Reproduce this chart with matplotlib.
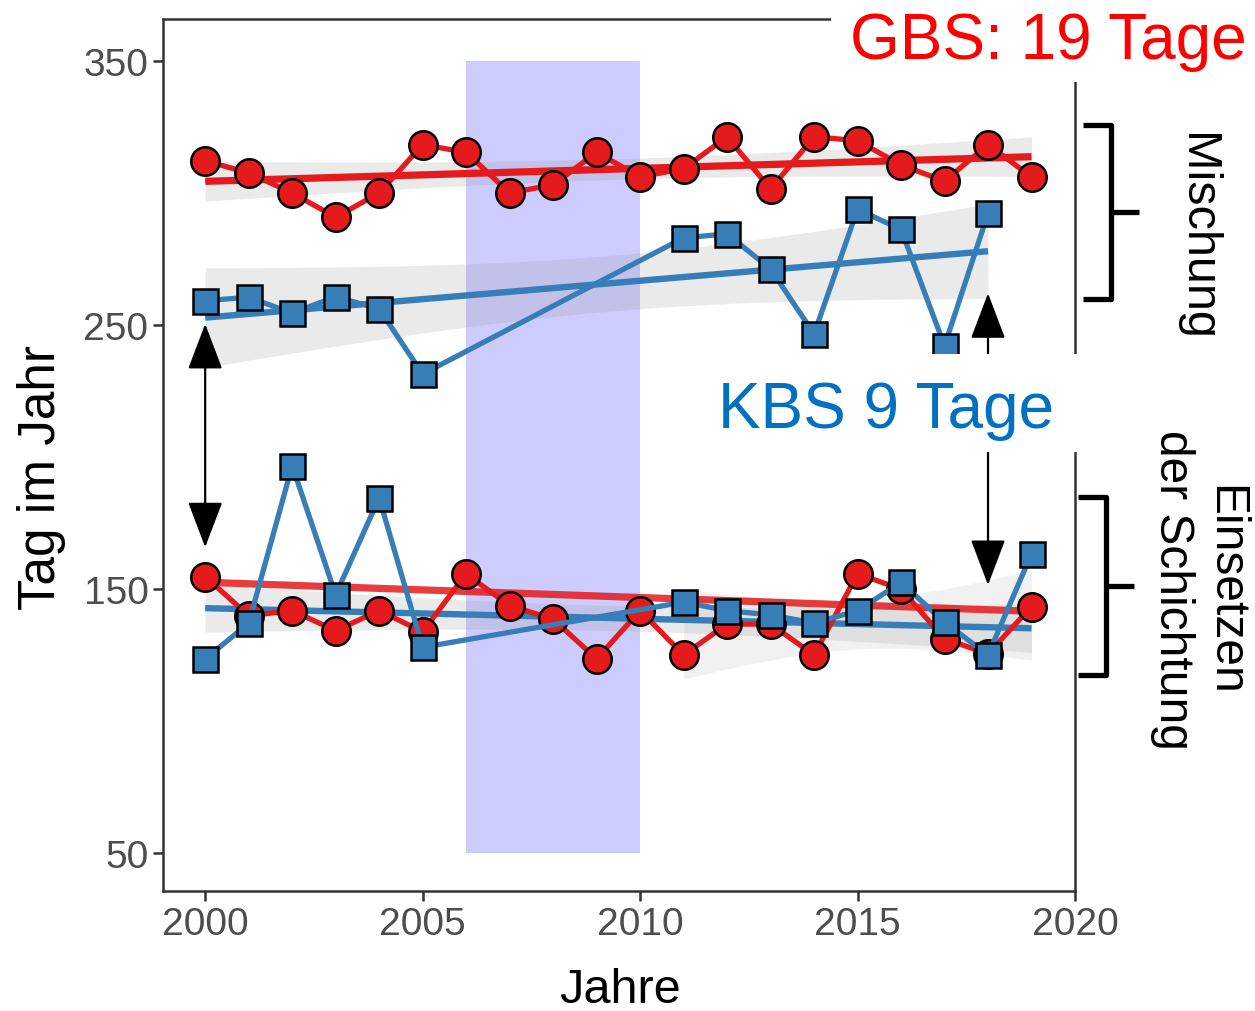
import numpy as np
import matplotlib
matplotlib.use('Agg')
import matplotlib.pyplot as plt
from matplotlib.patches import Rectangle
from matplotlib.lines import Line2D

plt.rcParams['font.family'] = ['Liberation Sans', 'DejaVu Sans']

# ---------------- data ----------------
years = list(range(2000, 2020))
gbs_mix = [312.2, 307.6, 300.0, 290.8, 300.0, 318.3, 315.4, 300.0, 303.1, 315.4,
           306.1, 309.2, 321.3, 301.5, 321.3, 319.8, 310.6, 304.5, 318.3, 306.1]
kbs_mix_years = [2000, 2001, 2002, 2003, 2004, 2005, 2011, 2012, 2013, 2014,
                 2015, 2016, 2017, 2018]
kbs_mix = [259.2, 260.5, 254.5, 260.7, 256.1, 231.4, 283.0, 284.5, 271.2, 246.6,
           293.8, 286.2, 242.1, 292.3]
gbs_strat = [154.7, 139.9, 141.8, 134.2, 141.8, 133.8, 155.7, 143.7, 138.6, 123.5,
             141.8, 125.0, 136.7, 136.7, 125.0, 155.7, 150.0, 131.1, 125.5, 143.3]
kbs_strat_years = [2000, 2001, 2002, 2003, 2004, 2005, 2011, 2012, 2013, 2014,
                   2015, 2016, 2017, 2018, 2019]
kbs_strat = [123.5, 137.0, 196.7, 147.8, 184.5, 127.9, 145.0, 141.8, 140.2, 137.1,
             141.8, 152.5, 137.4, 125.0, 163.3]
late_years_from = 2011          # light funnel band (late-period fit)
shade_years = [2006, 2010]
shade_days = [50, 350]
arrow_2000 = [250.4, 165.8]
arrow_2018 = [262.0, 151.5]
x_ticks = [2000, 2005, 2010, 2015, 2020]
y_ticks = [50, 150, 250, 350]

RED = '#E41A1C'
BLUE = '#377EB8'
T975 = {7: 2.365, 12: 2.179, 13: 2.160, 18: 2.101}


def lm_band(x, y, n_grid=100):
    x = np.asarray(x, float)
    y = np.asarray(y, float)
    b, a = np.polyfit(x, y, 1)
    xs = np.linspace(x.min(), x.max(), n_grid)
    fit = a + b * xs
    resid = y - (a + b * x)
    n = len(x)
    s = np.sqrt((resid ** 2).sum() / (n - 2))
    se = s * np.sqrt(1 / n + (xs - x.mean()) ** 2 / ((x - x.mean()) ** 2).sum())
    t = T975[n - 2]
    return xs, fit, fit - t * se, fit + t * se


W, H = 1255, 1012
fig = plt.figure(figsize=(W / 100, H / 100), dpi=100)


def fx(px):
    return px / W


def fy(py):
    return 1 - py / H


ax = fig.add_axes([fx(163), fy(892), fx(1075) - fx(163), fy(20) - fy(892)])
ax.set_xlim(1999.03, 2020.0)
ax.set_ylim(35.6, 365.9)

# shaded period
ax.add_patch(Rectangle((shade_years[0], shade_days[0]), shade_years[1] - shade_years[0],
                       shade_days[1] - shade_days[0], facecolor='#CCCCFF',
                       edgecolor='none', zorder=0.5))

# ---- mixing (top) ----
xs, fit, lo, hi = lm_band(years, gbs_mix)
ax.fill_between(xs, lo, hi, color='#999999', alpha=0.2, lw=0, zorder=1)
ax.plot(xs, fit, color=RED, lw=5.2, zorder=2, solid_capstyle='butt')

xs, fit, lo, hi = lm_band(kbs_mix_years, kbs_mix)
ax.fill_between(xs, lo, hi, color='#999999', alpha=0.2, lw=0, zorder=1)
ax.plot(xs, fit, color=BLUE, lw=4.6, zorder=2, solid_capstyle='butt')

# ---- onset of stratification (bottom) ----
ly = [y for y in years if y >= late_years_from]
lv = [v for y, v in zip(years, gbs_strat) if y >= late_years_from]
xs, fit, lo, hi = lm_band(ly, lv)
ax.fill_between(xs, lo, hi, color='#999999', alpha=0.13, lw=0, zorder=1)

xs, fit, lo, hi = lm_band(years, gbs_strat)
ax.fill_between(xs, lo, hi, color='#999999', alpha=0.2, lw=0, zorder=1)
ax.plot(xs, fit, color=BLUE, lw=4.6, zorder=2, solid_capstyle='butt')

xs, fit, lo, hi = lm_band(kbs_strat_years, kbs_strat)
ax.plot(xs, fit, color=RED, lw=5.2, alpha=0.85, zorder=2, solid_capstyle='butt')

# data lines and points
mk_c = dict(marker='o', markersize=20.5, markeredgecolor='black', markeredgewidth=1.8)
mk_s = dict(marker='s', markersize=18, markeredgecolor='black', markeredgewidth=1.8)
ax.plot(years, gbs_mix, color=RED, lw=3.8, zorder=3, markerfacecolor=RED, **mk_c)
ax.plot(kbs_mix_years, kbs_mix, color=BLUE, lw=3.8, zorder=3, markerfacecolor=BLUE, **mk_s)
ax.plot(years, gbs_strat, color=RED, lw=3.8, zorder=3, markerfacecolor=RED, **mk_c)
ax.plot(kbs_strat_years, kbs_strat, color=BLUE, lw=3.8, zorder=4, markerfacecolor=BLUE, **mk_s)

# arrows
astyle = '<|-|>,head_length=2.9,head_width=1.1'
ax.annotate('', xy=(2000, arrow_2000[1]), xytext=(2000, arrow_2000[0]),
            arrowprops=dict(arrowstyle=astyle, mutation_scale=10, color='black',
                            lw=1.6, shrinkA=0, shrinkB=0), zorder=5)
ax.annotate('', xy=(2018, arrow_2018[1]), xytext=(2018, arrow_2018[0]),
            arrowprops=dict(arrowstyle=astyle, mutation_scale=10, color='black',
                            lw=1.6, shrinkA=0, shrinkB=0), zorder=5)

# axes styling
for sp in ax.spines.values():
    sp.set_color('#333333')
    sp.set_linewidth(1.8)
ax.set_xticks(x_ticks)
ax.set_yticks(y_ticks)
ax.set_xticklabels([str(t) for t in x_ticks])
ax.set_yticklabels([str(t) for t in y_ticks])
ax.tick_params(axis='both', length=7, width=1.8, color='#333333',
               labelsize=28, labelcolor='#4D4D4D', pad=3.5)

fig.text(fx(42), fy(478), 'Tag im Jahr', rotation=90, ha='center', va='center',
         fontsize=37, color='black')
fig.text(fx(620), fy(991), 'Jahre', ha='center', va='center', fontsize=35,
         color='black')

# white boxes covering parts of the frame, with the labels
fig.add_artist(Rectangle((fx(831), fy(83)), fx(W) - fx(831), fy(0) - fy(83),
                         transform=fig.transFigure, facecolor='white',
                         edgecolor='none', zorder=10))
fig.add_artist(Rectangle((fx(705), fy(453)), fx(1090) - fx(705), fy(355) - fy(453),
                         transform=fig.transFigure, facecolor='white',
                         edgecolor='none', zorder=10))
fig.text(fx(850), fy(59), 'GBS: 19 Tage', color='#FF0000', fontsize=46,
         ha='left', va='baseline', zorder=11)
fig.text(fx(718), fy(428), 'KBS 9 Tage', color='#0070C0', fontsize=46,
         ha='left', va='baseline', zorder=11)

# brackets at the right
def bracket(top, bottom, xv, xend, xtick):
    mid = (top + bottom) / 2
    kw = dict(transform=fig.transFigure, color='black', lw=3.8,
              solid_joinstyle='round', solid_capstyle='butt', zorder=11)
    fig.add_artist(Line2D([fx(xend), fx(xv), fx(xv), fx(xend)],
                          [fy(top), fy(top), fy(bottom), fy(bottom)], **kw))
    fig.add_artist(Line2D([fx(xv), fx(xtick)], [fy(mid), fy(mid)], **kw))


bracket(126, 300, 1111, 1083, 1139)
bracket(498, 676, 1106, 1078, 1134)

fig.text(fx(1196), fy(237), 'Mischung', rotation=270, ha='center', va='center',
         fontsize=35, color='black')
fig.text(fx(1199), fy(590), 'Einsetzen\nder Schichtung', rotation=270, ha='center',
         va='center', multialignment='center', fontsize=34.5, color='black',
         linespacing=1.2)

fig.savefig('out.png', dpi=100)
